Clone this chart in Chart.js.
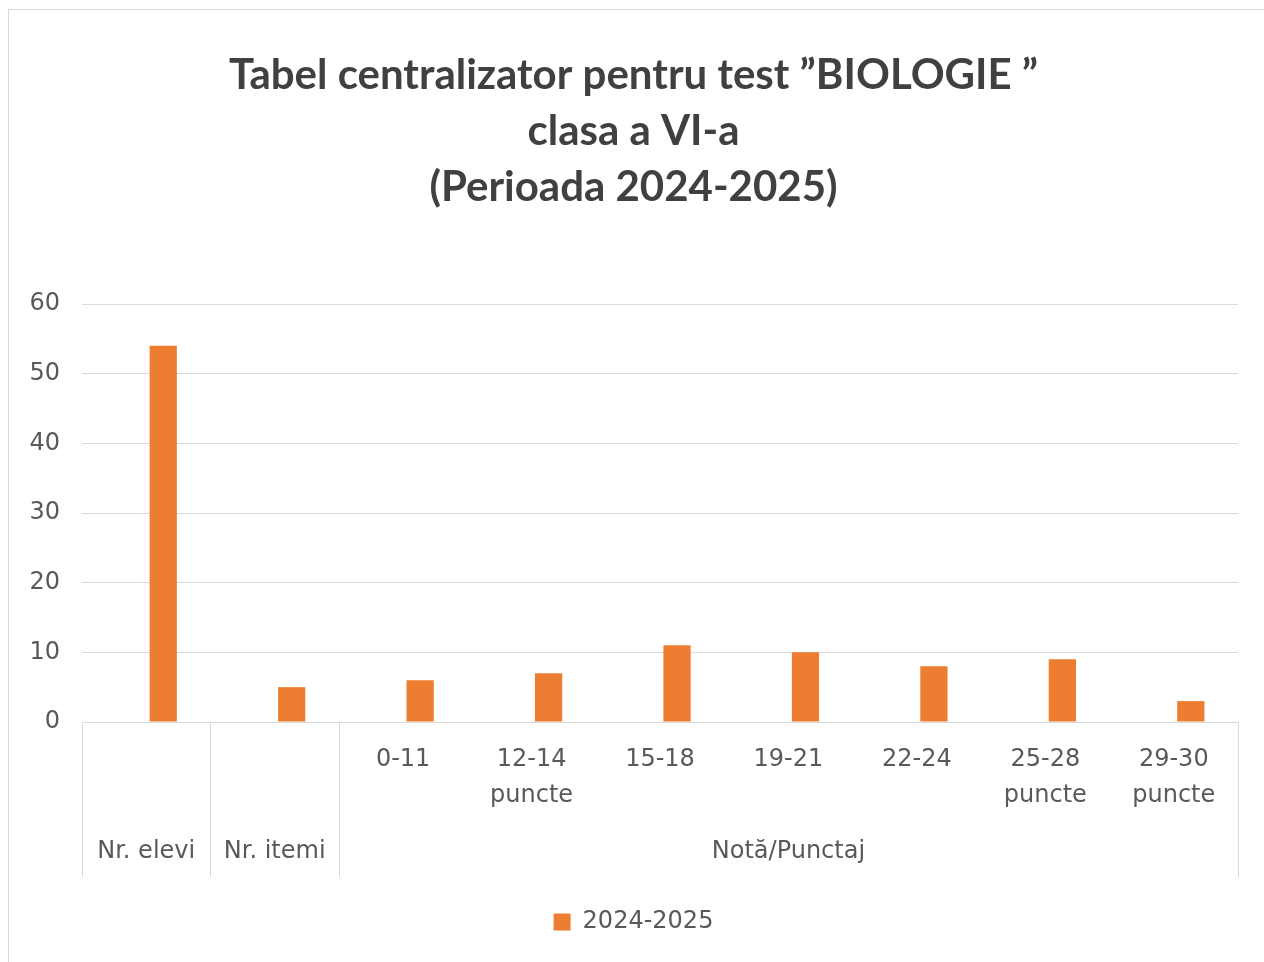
<!DOCTYPE html>
<html>
<head>
<meta charset="utf-8">
<script src="https://cdn.jsdelivr.net/npm/chart.js@4.4.1/dist/chart.umd.min.js"></script>
<style>
  body { margin: 0; width: 1264px; height: 962px; overflow: hidden; background: #fff; }
  #frame { position: absolute; left: 8px; top: 9px; width: 1262px; height: 960px; border: 1px solid #d9d9d9; }
  canvas { display: block; }
</style>
</head>
<body>
<div id="frame"><canvas id="grafic" width="1262" height="953"></canvas></div>
<script>
// date
const categorii = [[''], [''], ['0-11'], ['12-14', 'puncte'], ['15-18'], ['19-21'], ['22-24'], ['25-28', 'puncte'], ['29-30', 'puncte']];
const valori = [54, 5, 6, 7, 11, 10, 8, 9, 3];
const serieGoala = [null, null, null, null, null, null, null, null, null]; // seria goala din Excel (de aceea barele sunt decalate)
const grupe = ['Nr. elevi', 'Nr. itemi', 'Notă/Punctaj'];
const grupeLatime = [1, 1, 7];
const titlu = ['Tabel centralizator pentru test ”BIOLOGIE ”', 'clasa a VI-a', '(Perioada 2024-2025)'];
const serie = '2024-2025';

const gri = '#d9d9d9';
const text = '#595959';
const fontAx = { family: 'DejaVu Sans', size: 24 };

// axa pe doua nivele, ca in Excel
const axaGrupe = {
    id: 'axaGrupe',
    afterDraw(chart) {
        const { ctx, chartArea } = chart;
        const x = chart.scales.x;
        const pas = x.getPixelForValue(1) - x.getPixelForValue(0);
        const jos = chartArea.bottom + 155;
        ctx.save();
        ctx.strokeStyle = gri;
        ctx.lineWidth = 1;
        ctx.beginPath();
        ctx.moveTo(chartArea.left, Math.round(chartArea.bottom) + 0.5);
        ctx.lineTo(chartArea.right, Math.round(chartArea.bottom) + 0.5);
        let start = 0;
        const margini = [0];
        grupeLatime.forEach(n => { start += n; margini.push(start); });
        margini.forEach(i => {
            const px = Math.round(x.getPixelForValue(0) - pas / 2 + i * pas) + 0.5;
            ctx.moveTo(px, chartArea.bottom);
            ctx.lineTo(px, jos);
        });
        ctx.stroke();
        ctx.fillStyle = text;
        ctx.font = fontAx.size + 'px "' + fontAx.family + '"';
        ctx.textAlign = 'center';
        ctx.textBaseline = 'middle';
        grupe.forEach((g, k) => {
            const centru = x.getPixelForValue(0) - pas / 2 + (margini[k] + margini[k + 1]) / 2 * pas;
            ctx.fillText(g, centru, chartArea.bottom + 130);
        });
        ctx.restore();
    }
};

new Chart(document.getElementById('grafic'), {
    type: 'bar',
    data: {
        labels: categorii,
        datasets: [{
            label: '',
            data: serieGoala,
            backgroundColor: 'transparent',
            categoryPercentage: 0.53,
            barPercentage: 0.8
        }, {
            label: serie,
            data: valori,
            backgroundColor: '#ED7D31',
            categoryPercentage: 0.53,
            barPercentage: 0.8
        }]
    },
    options: {
        responsive: false,
        animation: false,
        layout: { padding: { left: 20, right: 33, top: 0, bottom: 19 } },
        plugins: {
            title: {
                display: true,
                text: titlu,
                color: '#404040',
                font: { family: 'Lato', size: 42, weight: 'bold', lineHeight: 56 / 42 },
                padding: { top: 37, bottom: 89 }
            },
            legend: {
                position: 'bottom',
                labels: {
                    boxWidth: 17,
                    boxHeight: 17,
                    color: text,
                    font: fontAx,
                    padding: 10,
                    filter: item => item.text !== ''
                }
            },
            tooltip: { enabled: false }
        },
        scales: {
            y: {
                min: 0,
                max: 60,
                ticks: { stepSize: 10, padding: 22, color: text, font: fontAx },
                grid: { color: gri, drawTicks: false },
                border: { display: false },
                afterFit: s => { s.width = 53; }
            },
            x: {
                grid: { display: false },
                border: { display: false },
                ticks: { color: text, font: { family: 'DejaVu Sans', size: 24, lineHeight: 1.5 }, padding: 12, autoSkip: false, maxRotation: 0 },
                afterFit: s => { s.height = 178; }
            }
        }
    },
    plugins: [axaGrupe]
});
</script>
</body>
</html>
